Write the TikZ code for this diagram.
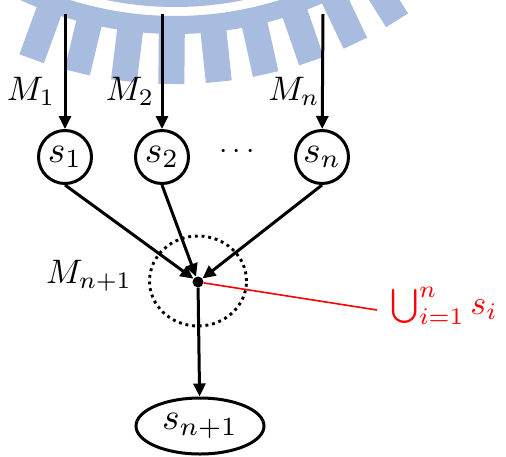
\documentclass[tikz,border=0pt]{standalone}
\usetikzlibrary{arrows.meta,shapes.geometric}
\definecolor{wmblue}{RGB}{168,188,223}
\newcommand\ssub[1]{\scalebox{3.75}{$s_{#1}$}}
\begin{document}
\begin{tikzpicture}[x=1pt,y=-1pt,
  ln/.style={line width=3pt},
  arr/.style={ln,-{Triangle[length=13pt,width=12pt]}},
  snode/.style={circle,draw,ln,minimum size=53pt,inner sep=0pt},
  mlab/.style={font=\normalsize,scale=3.4,inner sep=0pt,anchor=base}]
\useasboundingbox (0,0) rectangle (506,456);
% watermark
\coordinate (C) at (175,-335);
\draw[wmblue,line width=18pt] ([shift={(C)}]122:333) arc[start angle=122,end angle=50,radius=333];
\draw[wmblue,line width=18pt] ([shift={(C)}]118:360) arc[start angle=118,end angle=54,radius=360];
\foreach \t in {-20,-13.5,-7,-0.5,6,12.5,19,25.5,32}
  \draw[wmblue,line width=26pt] ([shift={(C)}]90-\t:362) -- ([shift={(C)}]90-\t:419);
% nodes
\node[snode] (s1) at (65,157) {\ssub{1}};
\node[snode] (s2) at (162,157) {\ssub{2}};
\node[snode] (sn) at (322,157) {\ssub{n}};
\node[font=\normalsize,scale=3] (dots) at (237,152) {$\cdots$};
\node[ellipse,draw,line width=2.9pt,dash pattern=on 2.9pt off 3.8pt,minimum width=97pt,minimum height=90pt] (zone) at (198,281) {};
\node[circle,fill,inner sep=0pt,minimum size=11pt] (dot) at (198,282) {};
\node[ellipse,draw,ln,minimum width=128pt,minimum height=56pt,inner sep=0pt] (snn) at (200,426) {\ssub{n+1}};
\node[mlab] (m1) at (31,100) {$M_1$};
\node[mlab] (m2) at (130,100) {$M_2$};
\node[mlab] (mn) at (294,100) {$M_n$};
\node[mlab] (mn1) at (89,283) {$M_{n+1}$};
\coordinate (t1) at (65,14);
\coordinate (t2) at (162,14);
\coordinate (tn) at (323,14);
\coordinate (rend) at (377,310);
\node[text=red,anchor=west,inner sep=0pt,font=\normalsize,scale=3.4] (lab) at (390,306) {$\bigcup_{i=1}^{n} s_i$};
% connectors
\draw[arr] (t1) -- (s1);
\draw[arr] (t2) -- (s2);
\draw[arr] (tn) -- (sn);
\draw[arr] (s1.south) -- (dot);
\draw[arr] (s2.south) -- (dot);
\draw[arr] (sn.south) -- (dot);
\draw[arr] (dot) -- (snn);
\draw[red,line width=1.6pt] (dot) -- (rend);
\end{tikzpicture}
\end{document}
